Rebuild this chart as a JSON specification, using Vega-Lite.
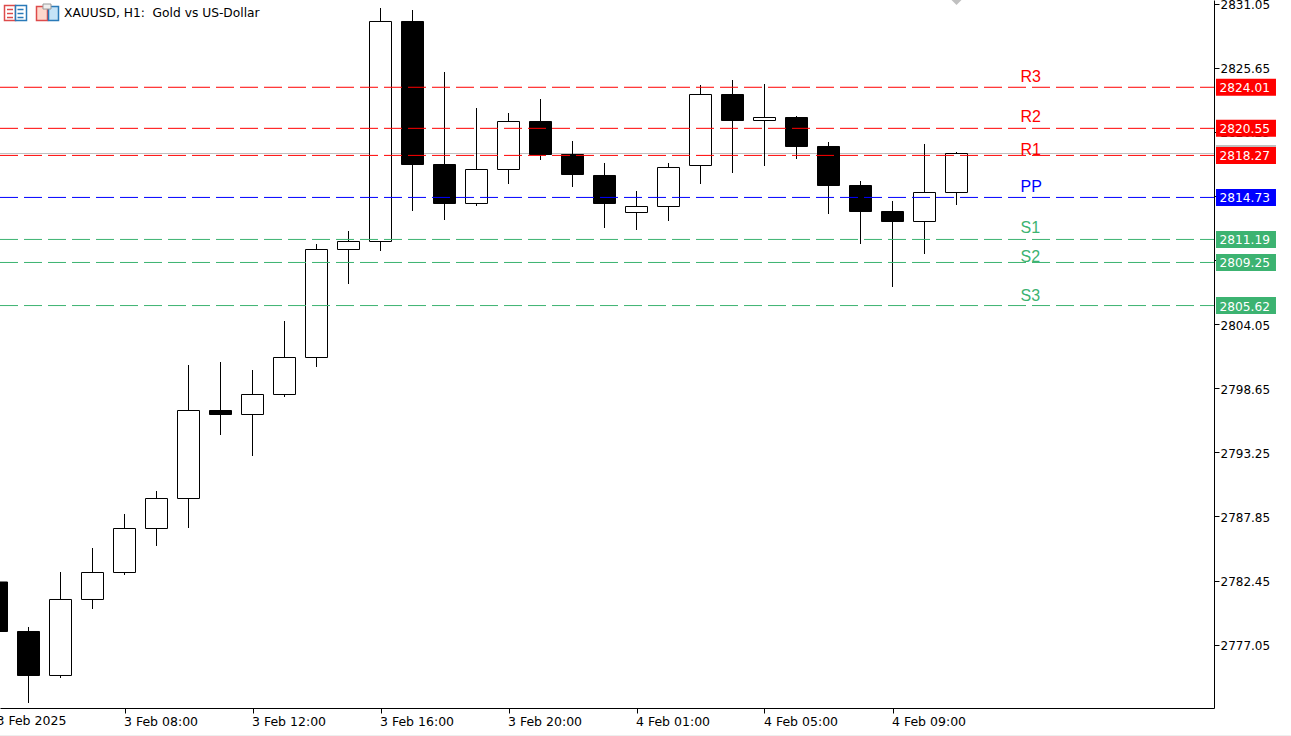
{
  "$schema": "https://vega.github.io/schema/vega-lite/v6.json",
  "description": "XAUUSD H1 candles with daily pivot levels",
  "width": 1214,
  "height": 708,
  "padding": {"left": 0, "top": 0, "right": 77, "bottom": 28},
  "autosize": "none",
  "background": "white",
  "config": {"view": {"stroke": null}, "text": {"font": "DejaVu Sans"}},
  "datasets": {
    "candles": [
      {"slot": -1, "open": 2782.331, "high": 2782.6, "low": 2777.9, "close": 2778.161},
      {"slot": 0, "open": 2778.161, "high": 2778.54, "low": 2772.137, "close": 2774.454},
      {"slot": 1, "open": 2774.454, "high": 2783.173, "low": 2774.243, "close": 2780.857},
      {"slot": 2, "open": 2780.857, "high": 2785.195, "low": 2780.056, "close": 2783.131},
      {"slot": 3, "open": 2783.131, "high": 2788.06, "low": 2782.921, "close": 2786.838},
      {"slot": 4, "open": 2786.838, "high": 2789.997, "low": 2785.364, "close": 2789.365},
      {"slot": 5, "open": 2789.365, "high": 2800.612, "low": 2786.88, "close": 2796.779},
      {"slot": 6, "open": 2796.779, "high": 2800.865, "low": 2794.715, "close": 2796.442},
      {"slot": 7, "open": 2796.442, "high": 2800.191, "low": 2792.945, "close": 2798.127},
      {"slot": 8, "open": 2798.127, "high": 2804.319, "low": 2797.916, "close": 2801.244},
      {"slot": 9, "open": 2801.244, "high": 2810.805, "low": 2800.444, "close": 2810.342},
      {"slot": 10, "open": 2810.342, "high": 2811.901, "low": 2807.435, "close": 2811.016},
      {"slot": 11, "open": 2811.016, "high": 2830.688, "low": 2810.216, "close": 2829.551},
      {"slot": 12, "open": 2829.551, "high": 2830.519, "low": 2813.586, "close": 2817.503},
      {"slot": 13, "open": 2817.503, "high": 2825.296, "low": 2812.827, "close": 2814.218},
      {"slot": 14, "open": 2814.218, "high": 2822.263, "low": 2814.007, "close": 2817.082},
      {"slot": 15, "open": 2817.082, "high": 2821.842, "low": 2815.86, "close": 2821.126},
      {"slot": 16, "open": 2821.126, "high": 2823.021, "low": 2817.882, "close": 2818.346},
      {"slot": 17, "open": 2818.346, "high": 2819.483, "low": 2815.608, "close": 2816.661},
      {"slot": 18, "open": 2816.577, "high": 2817.63, "low": 2812.153, "close": 2814.218},
      {"slot": 19, "open": 2813.459, "high": 2815.271, "low": 2811.985, "close": 2813.965},
      {"slot": 20, "open": 2813.965, "high": 2817.63, "low": 2812.743, "close": 2817.251},
      {"slot": 21, "open": 2817.419, "high": 2824.201, "low": 2815.86, "close": 2823.4},
      {"slot": 22, "open": 2823.4, "high": 2824.622, "low": 2816.787, "close": 2821.21},
      {"slot": 23, "open": 2821.21, "high": 2824.285, "low": 2817.377, "close": 2821.463},
      {"slot": 24, "open": 2821.463, "high": 2821.589, "low": 2817.967, "close": 2819.02},
      {"slot": 25, "open": 2819.02, "high": 2819.399, "low": 2813.333, "close": 2815.734},
      {"slot": 26, "open": 2815.734, "high": 2816.113, "low": 2810.805, "close": 2813.544},
      {"slot": 27, "open": 2813.544, "high": 2814.428, "low": 2807.183, "close": 2812.701},
      {"slot": 28, "open": 2812.701, "high": 2819.231, "low": 2809.963, "close": 2815.144},
      {"slot": 29, "open": 2815.144, "high": 2818.556, "low": 2814.091, "close": 2818.43}
    ],
    "levels": [
      {"level": "R3", "price": 2824.01, "labelPrice": 2824.875},
      {"level": "R2", "price": 2820.55, "labelPrice": 2821.505},
      {"level": "R1", "price": 2818.27, "labelPrice": 2818.725},
      {"level": "PP", "price": 2814.73, "labelPrice": 2815.61},
      {"level": "S1", "price": 2811.19, "labelPrice": 2812.154},
      {"level": "S2", "price": 2809.25, "labelPrice": 2809.71},
      {"level": "S3", "price": 2805.62, "labelPrice": 2806.43}
    ]
  },
  "data": {"name": "candles"},
  "layer": [
    {
      "data": {"values": [{"bid": 2818.43}]},
      "mark": {"type": "rule", "color": "#c0c0c0", "strokeWidth": 1},
      "encoding": {
        "x": {
          "datum": -0.890625,
          "type": "quantitative",
          "title": null,
          "scale": {"domain": [-0.890625, 37.046875], "nice": false, "zero": false, "padding": 0},
          "axis": {
            "orient": "bottom",
            "grid": false,
            "title": null,
            "values": [3, 7, 11, 15, 19, 23, 27],
            "labelExpr": "{'3': '3 Feb 08:00', '7': '3 Feb 12:00', '11': '3 Feb 16:00', '15': '3 Feb 20:00', '19': '4 Feb 01:00', '23': '4 Feb 05:00', '27': '4 Feb 09:00'}[datum.value]",
            "labelAlign": "left",
            "labelBaseline": "middle",
            "labelPadding": 8,
            "labelOffset": -1,
            "labelFont": "DejaVu Sans",
            "labelFontSize": 12.5,
            "labelColor": "black",
            "labelFlush": false,
            "labelBound": false,
            "labelOverlap": false,
            "tickSize": 5,
            "tickColor": "black",
            "domainColor": "black"
          }
        },
        "x2": {"datum": 37.046875},
        "y": {
          "field": "bid",
          "type": "quantitative",
          "title": null,
          "scale": {"domain": [2771.716, 2831.362], "nice": false, "zero": false, "padding": 0},
          "axis": {
            "orient": "right",
            "grid": false,
            "title": null,
            "values": [2831.05, 2825.65, 2820.25, 2814.85, 2809.45, 2804.05, 2798.65, 2793.25, 2787.85, 2782.45, 2777.05],
            "format": ".2f",
            "labelAlign": "left",
            "labelPadding": 1,
            "labelOffset": 1,
            "labelFont": "DejaVu Sans",
            "labelFontSize": 12,
            "labelColor": "black",
            "labelFlush": false,
            "labelBound": false,
            "labelOverlap": false,
            "tickSize": 5,
            "tickColor": "black",
            "domainColor": "black"
          }
        }
      }
    },
    {
      "mark": {"type": "rule", "color": "black", "strokeWidth": 1},
      "encoding": {
        "x": {"field": "slot", "type": "quantitative"},
        "y": {"field": "low", "type": "quantitative"},
        "y2": {"field": "high"}
      }
    },
    {
      "mark": {"type": "bar", "orient": "vertical", "size": 22, "stroke": "black", "strokeWidth": 1},
      "encoding": {
        "x": {"field": "slot", "type": "quantitative"},
        "y": {"field": "open", "type": "quantitative"},
        "y2": {"field": "close"},
        "fill": {"condition": {"test": "datum.close >= datum.open", "value": "white"}, "value": "black"}
      }
    },
    {
      "data": {"name": "levels"},
      "mark": {"type": "rule", "strokeWidth": 1, "strokeDash": [18, 6], "strokeDashOffset": 4},
      "encoding": {
        "y": {"field": "price", "type": "quantitative"},
        "color": {
          "field": "level",
          "type": "nominal",
          "legend": null,
          "scale": {
            "domain": ["R3", "R2", "R1", "PP", "S1", "S2", "S3"],
            "range": ["#ff0000", "#ff0000", "#ff0000", "#0000ff", "#3cb371", "#3cb371", "#3cb371"]
          }
        }
      }
    },
    {
      "data": {"values": [{"bid": 2818.43}]},
      "mark": {"type": "bar", "orient": "horizontal", "size": 17, "color": "#c0c0c0"},
      "encoding": {
        "x": {"datum": 37.109, "type": "quantitative"},
        "x2": {"datum": 38.984},
        "y": {"field": "bid", "type": "quantitative"}
      }
    },
    {
      "data": {"name": "levels"},
      "mark": {"type": "bar", "orient": "horizontal", "size": 17},
      "encoding": {
        "x": {"datum": 37.109, "type": "quantitative"},
        "x2": {"datum": 38.984},
        "y": {"field": "price", "type": "quantitative"},
        "color": {"field": "level", "type": "nominal", "legend": null}
      }
    },
    {
      "data": {"name": "levels"},
      "mark": {"type": "text", "align": "left", "baseline": "middle", "color": "white", "font": "DejaVu Sans", "fontSize": 12.2, "dy": 1},
      "encoding": {
        "x": {"datum": 37.22, "type": "quantitative"},
        "y": {"field": "price", "type": "quantitative"},
        "text": {"field": "price", "type": "quantitative", "format": ".2f"}
      }
    },
    {
      "data": {"name": "levels"},
      "mark": {"type": "text", "align": "left", "baseline": "middle", "font": "Liberation Sans", "fontSize": 16},
      "encoding": {
        "x": {"datum": 31, "type": "quantitative"},
        "y": {"field": "labelPrice", "type": "quantitative"},
        "text": {"field": "level", "type": "nominal"},
        "color": {"field": "level", "type": "nominal", "legend": null}
      }
    },
    {
      "data": {"values": [{"caption": "XAUUSD, H1: \u00a0Gold vs US-Dollar"}]},
      "mark": {"type": "text", "align": "left", "baseline": "middle", "color": "black", "font": "DejaVu Sans", "fontSize": 12.25},
      "encoding": {
        "x": {"datum": 1.109, "type": "quantitative"},
        "y": {"datum": 2830.26, "type": "quantitative"},
        "text": {"field": "caption", "type": "nominal"}
      }
    },
    {
      "data": {"values": [{"caption": "3 Feb 2025"}]},
      "mark": {"type": "text", "align": "left", "baseline": "middle", "color": "black", "font": "DejaVu Sans", "fontSize": 12.5},
      "encoding": {
        "x": {"datum": -1, "type": "quantitative"},
        "y": {"datum": 2770.62, "type": "quantitative"},
        "text": {"field": "caption", "type": "nominal"}
      }
    },
    {
      "data": {"values": [{}]},
      "mark": {"type": "point", "shape": "diamond", "filled": true, "size": 100, "color": "#c0c0c0", "opacity": 1},
      "encoding": {
        "x": {"datum": 29, "type": "quantitative"},
        "y": {"datum": 2831.362, "type": "quantitative"}
      }
    },
    {
      "data": {"values": [{}]},
      "mark": {"type": "rule", "color": "#eeeeee", "strokeWidth": 1},
      "encoding": {
        "x": {"datum": -0.890625, "type": "quantitative"},
        "x2": {"datum": 39.45},
        "y": {"datum": 2769.4, "type": "quantitative"}
      }
    },
    {
      "data": {"values": [{}]},
      "mark": {"type": "rect", "fill": "white", "stroke": "#dd4b4b", "strokeWidth": 1.5},
      "encoding": {
        "x": {"datum": -0.75, "type": "quantitative"},
        "x2": {"datum": -0.406},
        "y": {"datum": 2830.898, "type": "quantitative"},
        "y2": {"datum": 2829.635}
      }
    },
    {
      "data": {"values": [{}]},
      "mark": {"type": "rect", "fill": "white", "stroke": "#2a7ab8", "strokeWidth": 1.5},
      "encoding": {
        "x": {"datum": -0.406, "type": "quantitative"},
        "x2": {"datum": -0.0625},
        "y": {"datum": 2830.898, "type": "quantitative"},
        "y2": {"datum": 2829.635}
      }
    },
    {
      "data": {"values": [{"row": 2830.561}, {"row": 2830.224}, {"row": 2829.887}]},
      "mark": {"type": "rule", "color": "#dd4b4b", "strokeWidth": 1.5},
      "encoding": {
        "x": {"datum": -0.672, "type": "quantitative"},
        "x2": {"datum": -0.484},
        "y": {"field": "row", "type": "quantitative"}
      }
    },
    {
      "data": {"values": [{"row": 2830.561}, {"row": 2830.224}, {"row": 2829.887}]},
      "mark": {"type": "rule", "color": "#2a7ab8", "strokeWidth": 1.5},
      "encoding": {
        "x": {"datum": -0.344, "type": "quantitative"},
        "x2": {"datum": -0.156},
        "y": {"field": "row", "type": "quantitative"}
      }
    },
    {
      "data": {"values": [{}]},
      "mark": {"type": "rect", "fill": "#ffd8cc", "stroke": "#dd4b4b", "strokeWidth": 1.5},
      "encoding": {
        "x": {"datum": 0.25, "type": "quantitative"},
        "x2": {"datum": 0.594},
        "y": {"datum": 2830.81, "type": "quantitative"},
        "y2": {"datum": 2829.635}
      }
    },
    {
      "data": {"values": [{}]},
      "mark": {"type": "rect", "fill": "#c5e3f7", "stroke": "#2a7ab8", "strokeWidth": 1.5},
      "encoding": {
        "x": {"datum": 0.625, "type": "quantitative"},
        "x2": {"datum": 0.9375},
        "y": {"datum": 2830.81, "type": "quantitative"},
        "y2": {"datum": 2829.635}
      }
    },
    {
      "data": {"values": [{}]},
      "mark": {"type": "rect", "fill": "#eeeeee", "stroke": "#999999", "strokeWidth": 1},
      "encoding": {
        "x": {"datum": 0.453, "type": "quantitative"},
        "x2": {"datum": 0.703},
        "y": {"datum": 2831.025, "type": "quantitative"},
        "y2": {"datum": 2830.6}
      }
    }
  ]
}
